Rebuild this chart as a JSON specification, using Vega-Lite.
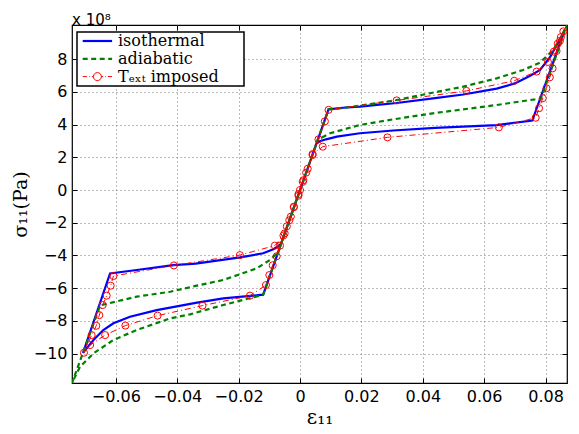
{
  "$schema": "https://vega.github.io/schema/vega-lite/v6.json",
  "width": 495,
  "height": 358,
  "autosize": "none",
  "padding": {"left": 72, "top": 25, "right": 12, "bottom": 51},
  "title": {"text": "x 10⁸", "anchor": "start", "frame": "group", "font": "DejaVu Sans", "fontSize": 15, "fontWeight": "normal", "color": "black", "baseline": "alphabetic", "offset": 4, "dy": 19},
  "datasets": {
    "iso": [
      {"x": 0, "y": 0}, {"x": 0.0093, "y": 4.93}, {"x": 0.014, "y": 5.03}, {"x": 0.0195, "y": 5.1}, {"x": 0.0315, "y": 5.32}, {"x": 0.044, "y": 5.62}, {"x": 0.0532, "y": 5.84}, {"x": 0.0641, "y": 6.2}, {"x": 0.07, "y": 6.52}, {"x": 0.075, "y": 6.98}, {"x": 0.0782, "y": 7.34}, {"x": 0.0814, "y": 8.1}, {"x": 0.0836, "y": 8.85}, {"x": 0.0863, "y": 9.8},
      {"x": 0.0757, "y": 4.25}, {"x": 0.0641, "y": 3.97}, {"x": 0.044, "y": 3.8}, {"x": 0.0304, "y": 3.64}, {"x": 0.0195, "y": 3.47}, {"x": 0.012, "y": 3.26}, {"x": 0.0085, "y": 3.1}, {"x": 0.0065, "y": 2.98}, {"x": 0.0054, "y": 2.86},
      {"x": -0.012, "y": -6.4}, {"x": -0.025, "y": -6.63}, {"x": -0.034, "y": -6.9}, {"x": -0.0467, "y": -7.34}, {"x": -0.0554, "y": -7.75}, {"x": -0.0608, "y": -8.15}, {"x": -0.0641, "y": -8.56}, {"x": -0.0673, "y": -9.17}, {"x": -0.07, "y": -9.79}, {"x": -0.0707, "y": -9.95},
      {"x": -0.0619, "y": -5.1}, {"x": -0.0532, "y": -4.89}, {"x": -0.0413, "y": -4.59}, {"x": -0.034, "y": -4.5}, {"x": -0.0195, "y": -4.12}, {"x": -0.012, "y": -3.87}, {"x": -0.0087, "y": -3.62}, {"x": -0.0072, "y": -3.45}, {"x": -0.0062, "y": -3.29}, {"x": 0, "y": 0}
    ],
    "adi": [
      {"x": 0, "y": 0}, {"x": 0.0093, "y": 4.93}, {"x": 0.0141, "y": 5.02}, {"x": 0.0304, "y": 5.46}, {"x": 0.044, "y": 5.98}, {"x": 0.0532, "y": 6.32}, {"x": 0.0641, "y": 6.83}, {"x": 0.0727, "y": 7.34}, {"x": 0.0782, "y": 7.79}, {"x": 0.0825, "y": 8.56}, {"x": 0.0852, "y": 9.38}, {"x": 0.087, "y": 10.09},
      {"x": 0.0785, "y": 5.58}, {"x": 0.0749, "y": 5.5}, {"x": 0.0641, "y": 5.2}, {"x": 0.0532, "y": 4.93}, {"x": 0.044, "y": 4.71}, {"x": 0.0304, "y": 4.32}, {"x": 0.0195, "y": 3.98}, {"x": 0.0098, "y": 3.47}, {"x": 0.0065, "y": 3.16}, {"x": 0.0058, "y": 3.07},
      {"x": -0.012, "y": -6.4}, {"x": -0.025, "y": -7.03}, {"x": -0.0358, "y": -7.6}, {"x": -0.0423, "y": -7.85}, {"x": -0.0532, "y": -8.56}, {"x": -0.0608, "y": -9.17}, {"x": -0.0673, "y": -9.99}, {"x": -0.0717, "y": -10.81}, {"x": -0.0743, "y": -11.8},
      {"x": -0.0651, "y": -7.05}, {"x": -0.0532, "y": -6.52}, {"x": -0.0423, "y": -6.22}, {"x": -0.034, "y": -5.86}, {"x": -0.025, "y": -5.5}, {"x": -0.0141, "y": -4.79}, {"x": -0.0098, "y": -4.28}, {"x": -0.0071, "y": -3.8}, {"x": -0.0062, "y": -3.29}, {"x": 0, "y": 0}
    ],
    "ext": [
      {"x": 0, "y": 0}, {"x": 0.002, "y": 1.06}, {"x": 0.0041, "y": 2.14}, {"x": 0.006, "y": 3.1}, {"x": 0.0081, "y": 4.2}, {"x": 0.0093, "y": 4.9},
      {"x": 0.0315, "y": 5.48}, {"x": 0.0542, "y": 6.06}, {"x": 0.0698, "y": 6.68}, {"x": 0.0771, "y": 7.24}, {"x": 0.0808, "y": 7.83}, {"x": 0.0827, "y": 8.46}, {"x": 0.084, "y": 8.95}, {"x": 0.085, "y": 9.35}, {"x": 0.0858, "y": 9.7},
      {"x": 0.0847, "y": 9.12}, {"x": 0.0836, "y": 8.5}, {"x": 0.0823, "y": 7.44}, {"x": 0.0814, "y": 6.89}, {"x": 0.0803, "y": 6.22}, {"x": 0.0791, "y": 5.61}, {"x": 0.0779, "y": 5.0}, {"x": 0.0768, "y": 4.42},
      {"x": 0.0648, "y": 3.83}, {"x": 0.0285, "y": 3.22}, {"x": 0.0074, "y": 2.65},
      {"x": 0.0041, "y": 2.2}, {"x": 0.0025, "y": 1.3}, {"x": 0.0009, "y": 0.5}, {"x": -0.0005, "y": -0.35}, {"x": -0.002, "y": -1.02}, {"x": -0.003, "y": -1.63}, {"x": -0.0043, "y": -2.22}, {"x": -0.0054, "y": -2.78}, {"x": -0.0065, "y": -3.4}, {"x": -0.0076, "y": -4.05}, {"x": -0.0089, "y": -4.6}, {"x": -0.01, "y": -5.2}, {"x": -0.0111, "y": -5.81},
      {"x": -0.0163, "y": -6.46}, {"x": -0.0318, "y": -7.07}, {"x": -0.0464, "y": -7.68}, {"x": -0.0569, "y": -8.29}, {"x": -0.0635, "y": -8.87}, {"x": -0.0684, "y": -9.48}, {"x": -0.0704, "y": -9.95},
      {"x": -0.0679, "y": -8.87}, {"x": -0.0664, "y": -8.3}, {"x": -0.0654, "y": -7.65}, {"x": -0.0643, "y": -7.03}, {"x": -0.063, "y": -6.46}, {"x": -0.0617, "y": -5.85}, {"x": -0.0608, "y": -5.26},
      {"x": -0.0411, "y": -4.61}, {"x": -0.0196, "y": -3.98}, {"x": -0.0082, "y": -3.4},
      {"x": -0.005, "y": -2.65}, {"x": -0.0035, "y": -1.85}, {"x": -0.002, "y": -1.05}, {"x": -0.0005, "y": -0.25}, {"x": 0.0011, "y": 0.6}
    ]
  },
  "layer": [
    {
      "data": {"name": "iso"},
      "mark": {"type": "line", "strokeWidth": 2.2, "clip": true},
      "encoding": {
        "x": {"field": "x", "type": "quantitative", "scale": {"domain": [-0.0743, 0.087], "nice": false, "zero": false},
              "axis": {"orient": "bottom", "values": [-0.06, -0.04, -0.02, 0, 0.02, 0.04, 0.06, 0.08], "format": ".2~f", "title": "ε₁₁", "titleFontSize": 20, "grid": true}},
        "y": {"field": "y", "type": "quantitative", "scale": {"domain": [-11.8, 10.09], "nice": false, "zero": false},
              "axis": {"orient": "left", "values": [-10, -8, -6, -4, -2, 0, 2, 4, 6, 8], "format": "d", "title": "σ₁₁(Pa)", "grid": true}},
        "order": {"value": null},
        "color": {"datum": "isothermal", "type": "nominal",
          "scale": {"domain": ["isothermal", "adiabatic", "Tₑₓₜ imposed\u2800\u2800"], "range": ["#0000ff", "#008000", "#ff0000"]},
          "legend": {
            "title": null, "orient": "none", "legendX": 5, "legendY": 7, "padding": 1,
            "fillColor": "white", "strokeColor": "black",
            "symbolSize": 196, "symbolOffset": 11.4, "labelOffset": 12.6, "rowPadding": 1.8,
            "labelFont": "DejaVu Serif", "labelFontSize": 16, "labelColor": "black",
            "encode": {
              "legend": {"update": {"strokeWidth": {"value": 1.5}}},
              "symbols": {"update": {
                "shape": {"signal": "datum.value === 'isothermal' || datum.value === 'adiabatic' ? 'M-2.1,0H2.1' : 'M-2.1,0H-1.5M-1.2,0H-1.1M-0.8,0H-0.571M0.571,0H0.8M1.1,0H1.2M1.5,0H2.1M0.571,0A0.571,0.571,0,1,1,-0.571,0A0.571,0.571,0,1,1,0.571,0'"},
                "strokeDash": {"signal": "datum.value === 'adiabatic' ? [5, 3.5] : []"},
                "strokeWidth": {"signal": "datum.value === 'isothermal' || datum.value === 'adiabatic' ? 2.2 : 1"},
                "fill": {"value": "transparent"},
                "opacity": {"value": 1}
              }}
            }
          }
        }
      }
    },
    {
      "data": {"name": "adi"},
      "mark": {"type": "line", "strokeWidth": 2.2, "strokeDash": [5, 3.5], "clip": true},
      "encoding": {
        "x": {"field": "x", "type": "quantitative", "scale": {"domain": [-0.0743, 0.087], "nice": false, "zero": false},
              "axis": {"orient": "top", "values": [-0.06, -0.04, -0.02, 0, 0.02, 0.04, 0.06, 0.08], "labels": false, "grid": false, "title": null}},
        "y": {"field": "y", "type": "quantitative", "scale": {"domain": [-11.8, 10.09], "nice": false, "zero": false},
              "axis": {"orient": "right", "values": [-10, -8, -6, -4, -2, 0, 2, 4, 6, 8], "labels": false, "grid": false, "title": null}},
        "order": {"value": null},
        "color": {"datum": "adiabatic", "type": "nominal"}
      }
    },
    {
      "data": {"name": "ext"},
      "mark": {"type": "line", "strokeWidth": 1, "strokeDash": [6, 3, 1, 3], "clip": true},
      "encoding": {
        "x": {"field": "x", "type": "quantitative", "axis": null},
        "y": {"field": "y", "type": "quantitative", "axis": null},
        "order": {"value": null},
        "color": {"datum": "Tₑₓₜ imposed\u2800\u2800", "type": "nominal"}
      }
    },
    {
      "data": {"name": "ext"},
      "mark": {"type": "point", "shape": "circle", "filled": false, "size": 50, "strokeWidth": 1, "opacity": 1, "clip": true},
      "encoding": {
        "x": {"field": "x", "type": "quantitative", "axis": null},
        "y": {"field": "y", "type": "quantitative", "axis": null},
        "color": {"datum": "Tₑₓₜ imposed\u2800\u2800", "type": "nominal"}
      }
    }
  ],
  "resolve": {"axis": {"x": "independent", "y": "independent"}},
  "config": {
    "background": "white",
    "view": {"stroke": "black", "strokeWidth": 1.2},
    "axis": {
      "domain": false,
      "tickSize": -5,
      "tickColor": "black",
      "tickWidth": 1,
      "labelFont": "DejaVu Sans",
      "labelFontSize": 16,
      "labelColor": "black",
      "labelPadding": 10,
      "gridColor": "#777777",
      "gridDash": [1, 3],
      "gridWidth": 1,
      "gridOpacity": 1,
      "titleFont": "DejaVu Serif",
      "titleFontSize": 19,
      "titleFontWeight": "normal",
      "titleColor": "black",
      "titlePadding": 3
    }
  }
}
